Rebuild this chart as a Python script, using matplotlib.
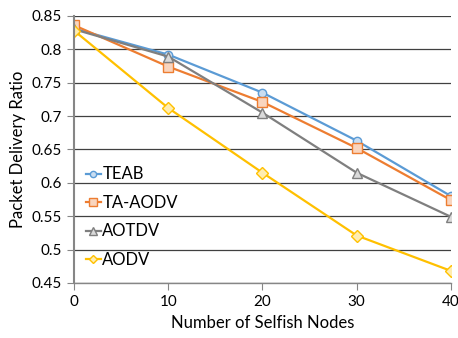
import matplotlib
matplotlib.use("Agg")
import matplotlib.pyplot as plt

selfish_nodes = [0, 10, 20, 30, 40]
teab = [0.831, 0.792, 0.735, 0.663, 0.580]
ta_aodv = [0.836, 0.774, 0.721, 0.652, 0.574]
aotdv = [0.830, 0.789, 0.705, 0.615, 0.549]
aodv = [0.828, 0.712, 0.615, 0.521, 0.468]
y_ticks = [0.45, 0.5, 0.55, 0.6, 0.65, 0.7, 0.75, 0.8, 0.85]

plt.rcParams['font.family'] = ['Lato', 'DejaVu Sans']

fig = plt.figure(figsize=(4.58, 3.38), dpi=100)
ax = fig.add_axes([0.1616, 0.163, 0.823, 0.79])

series = [
    ("TEAB", teab, "#5B9BD5", "#C9DDF1", "o", 6),
    ("TA-AODV", ta_aodv, "#ED7D31", "#F9D5BE", "s", 7),
    ("AOTDV", aotdv, "#7F7F7F", "#DADADA", "^", 7),
    ("AODV", aodv, "#FFC000", "#FFEDB0", "D", 6),
]
for name, vals, color, face, marker, ms in series:
    ax.plot(selfish_nodes, vals, color=color, lw=1.6, marker=marker, ms=ms,
            markerfacecolor=face, markeredgecolor=color, markeredgewidth=1, label=name)

ax.set_xlim(0, 40)
ax.set_ylim(0.45, 0.85)
ax.set_xticks(selfish_nodes)
ax.set_yticks(y_ticks)
ax.set_yticklabels([f"{v:g}" for v in y_ticks])
ax.yaxis.grid(True, color="#404040", lw=0.9)
ax.set_axisbelow(True)
for side in ["top", "right"]:
    ax.spines[side].set_visible(False)
ax.spines["left"].set_color("#868686")
ax.spines["left"].set_linewidth(1.5)
ax.spines["bottom"].set_color("#868686")
ax.spines["bottom"].set_linewidth(1.0)
ax.tick_params(axis="both", length=5, color="#868686", labelsize=11, colors="#000000")
ax.tick_params(axis="x", pad=4)

ax.set_xlabel("Number of Selfish Nodes", fontsize=12)
ax.set_ylabel("Packet Delivery Ratio", fontsize=12)

ax.legend(loc="upper left", bbox_to_anchor=(0.0, 0.48), frameon=False, fontsize=12,
          handlelength=0.9, handletextpad=0.1, labelspacing=0.75, borderaxespad=0.3,
          markerscale=0.75)

fig.savefig("out.png", dpi=100)
